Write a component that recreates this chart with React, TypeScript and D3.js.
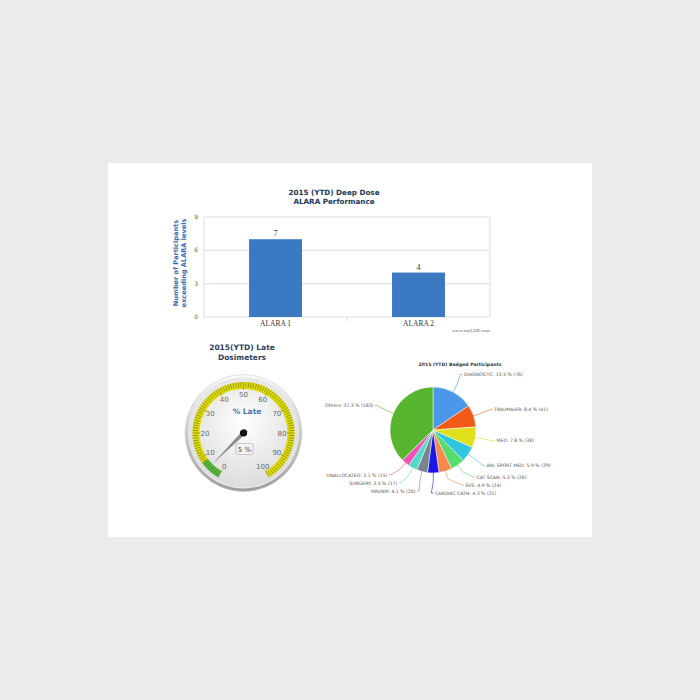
import React from "react";
import * as d3 from "d3";

// ---------- data ----------
const barCategories = ["ALARA 1", "ALARA 2"];
const barValues = [7, 4];
const barTicks = [0, 3, 6, 9];

const gaugeValue = 5;
const gaugeTickLabels = [0, 10, 20, 30, 40, 50, 60, 70, 80, 90, 100];
const gaugeGreenEnd = 8;

const pieNames = [
  "DIAGNOSTIC",
  "TRAUMA/ER",
  "MED",
  "ARL SPORT MED",
  "CAT SCAN",
  "SVS",
  "CARDIAC CATH",
  "MRI/NM",
  "SURGERY",
  "UNALLOCATED",
  "Others",
];
const pieCounts = [76, 41, 38, 29, 26, 24, 21, 20, 17, 15, 183];
const pieColors = [
  "#4b98ea",
  "#f25a17",
  "#dfe01b",
  "#2fc6e0",
  "#55dc6c",
  "#f7894c",
  "#1a16e8",
  "#7a848e",
  "#52d9c9",
  "#f052b5",
  "#58b52f",
];

const W = 700;
const H = 700;

function BarChart() {
  const left = 204, right = 490, top = 217, bottom = 317;
  const y = d3.scaleLinear().domain([0, 9]).range([bottom, top]);
  const x = d3.scaleBand<string>().domain(barCategories).range([left, right]).padding(0);
  const bw = x.bandwidth() * 0.37;
  return (
    <g>
      <text x={334} y={195} textAnchor="middle" fontFamily="DejaVu Sans" fontWeight="bold" fontSize={7.2} fill="#22385a">
        2015 (YTD) Deep Dose
      </text>
      <text x={334} y={204} textAnchor="middle" fontFamily="DejaVu Sans" fontWeight="bold" fontSize={7.2} fill="#22385a">
        ALARA Performance
      </text>
      {barTicks.map((t) => (
        <g key={t}>
          <line x1={left} x2={right} y1={y(t)} y2={y(t)} stroke="#d4d4d4" strokeWidth={0.8} />
          <text x={left - 6} y={y(t) + 2} textAnchor="end" fontFamily="DejaVu Sans" fontSize={6} fill="#666">
            {t}
          </text>
        </g>
      ))}
      <line x1={left} x2={left} y1={top} y2={bottom} stroke="#d4d4d4" strokeWidth={0.8} />
      <line x1={right} x2={right} y1={top} y2={bottom} stroke="#d4d4d4" strokeWidth={0.8} />
      <line x1={(left + right) / 2} x2={(left + right) / 2} y1={bottom} y2={bottom + 4} stroke="#d4d4d4" strokeWidth={0.8} />
      {barCategories.map((c, i) => {
        const cx = (x(c) ?? 0) + x.bandwidth() / 2;
        return (
          <g key={c}>
            <rect x={cx - bw / 2} y={y(barValues[i])} width={bw} height={bottom - y(barValues[i])} fill="#3b79c3" />
            <text x={cx} y={y(barValues[i]) - 3} textAnchor="middle" fontFamily="Liberation Serif" fontSize={8} fill="#333">
              {barValues[i]}
            </text>
            <text x={cx} y={bottom + 9} textAnchor="middle" fontFamily="Liberation Serif" fontSize={7.5} fill="#333">
              {c}
            </text>
          </g>
        );
      })}
      <text x={490} y={332} textAnchor="end" fontFamily="Liberation Serif" fontSize={5} fill="#666">
        www.myLDR.com
      </text>
      <g transform="translate(178,263) rotate(-90)">
        <text x={0} y={0} textAnchor="middle" fontFamily="DejaVu Sans" fontWeight="bold" fontSize={6.6} fill="#3b6fb3">
          Number of Participants
        </text>
        <text x={0} y={8} textAnchor="middle" fontFamily="DejaVu Sans" fontWeight="bold" fontSize={6.6} fill="#3b6fb3">
          exceeding ALARA levels
        </text>
      </g>
    </g>
  );
}

function Gauge() {
  const cx = 243.5, cy = 433;
  const ang = d3.scaleLinear().domain([0, 100]).range([-150, 150]);
  const rad = (v: number) => (ang(v) * Math.PI) / 180;
  const pt = (v: number, r: number): [number, number] => [cx + r * Math.sin(rad(v)), cy - r * Math.cos(rad(v))];
  const bandArc = d3.arc<any>();
  const yellow = bandArc({ innerRadius: 44, outerRadius: 51, startAngle: rad(gaugeGreenEnd), endAngle: rad(100) }) ?? "";
  const green = bandArc({ innerRadius: 44, outerRadius: 51, startAngle: rad(0), endAngle: rad(gaugeGreenEnd) }) ?? "";
  const minor = d3.range(0, 100.01, 1);
  const tip = pt(gaugeValue, 44);
  const a = rad(gaugeValue);
  const px = Math.cos(a), py = Math.sin(a);
  const back = pt(gaugeValue, -4);
  const needle = `M${tip[0]},${tip[1]} L${back[0] + px * 2.2},${back[1] + py * 2.2} L${back[0] - px * 2.2},${back[1] - py * 2.2} Z`;
  return (
    <g>
      <defs>
        <linearGradient id="bezel" x1="0" y1="0" x2="0" y2="1">
          <stop offset="0" stopColor="#fafafa" />
          <stop offset="1" stopColor="#9d9d9d" />
        </linearGradient>
        <radialGradient id="face" cx="0.5" cy="0.4" r="0.6">
          <stop offset="0" stopColor="#ffffff" />
          <stop offset="1" stopColor="#dcdcdc" />
        </radialGradient>
      </defs>
      <text x={242} y={350} textAnchor="middle" fontFamily="DejaVu Sans" fontWeight="bold" fontSize={7.5} fill="#2c3f5c">
        2015(YTD) Late
      </text>
      <text x={242} y={360} textAnchor="middle" fontFamily="DejaVu Sans" fontWeight="bold" fontSize={7.5} fill="#2c3f5c">
        Dosimeters
      </text>
      <circle cx={cx} cy={cy} r={58.5} fill="url(#bezel)" stroke="#c8c8c8" strokeWidth={0.5} />
      <circle cx={cx} cy={cy} r={55.5} fill="#e6e6e6" />
      <circle cx={cx} cy={cy} r={54} fill="url(#face)" />
      <path d={yellow} transform={`translate(${cx},${cy})`} fill="#dedc00" />
      <path d={green} transform={`translate(${cx},${cy})`} fill="#55b83a" />
      {minor.map((v) => {
        const p1 = pt(v, v % 10 === 0 ? 43 : 45.5);
        const p2 = pt(v, 51);
        return <line key={v} x1={p1[0]} y1={p1[1]} x2={p2[0]} y2={p2[1]} stroke="#5a5a2a" strokeWidth={0.5} />;
      })}
      {gaugeTickLabels.map((v) => {
        const p = pt(v, 38.5);
        return (
          <text key={v} x={p[0]} y={p[1] + 2.6} textAnchor="middle" fontFamily="DejaVu Sans" fontSize={7} fill="#6a6a6a">
            {v}
          </text>
        );
      })}
      <text x={247} y={414} textAnchor="middle" fontFamily="DejaVu Sans" fontWeight="bold" fontSize={7.5} fill="#4a74a8">
        % Late
      </text>
      <rect x={236} y={443.5} width={17} height={11} rx={1.5} fill="#f4f4f4" stroke="#aaa" strokeWidth={0.6} />
      <text x={244.5} y={451.5} textAnchor="middle" fontFamily="DejaVu Sans" fontSize={7} fill="#444">
        {gaugeValue} %
      </text>
      <path d={needle} fill="#8c8c8c" />
      <circle cx={cx} cy={cy} r={3.6} fill="#111" />
    </g>
  );
}

function PieChart() {
  const cx = 433, cy = 430, r = 43, d = 20;
  const total = d3.sum(pieCounts);
  const pie = d3.pie<number>().sort(null).value((v) => v);
  const arcs = pie(pieCounts);
  const arc = d3.arc<d3.PieArcDatum<number>>().innerRadius(0).outerRadius(r);
  const R = r + d;
  type L = { i: number; mid: number; y: number; side: number };
  const labels: L[] = arcs.map((a, i) => {
    const mid = (a.startAngle + a.endAngle) / 2;
    const side = mid < Math.PI * 1.02 ? 1 : -1;
    return { i, mid, y: cy - R * Math.cos(mid), side };
  });
  const spacing = 8;
  [1, -1].forEach((s) => {
    const group = labels.filter((l) => l.side === s).sort((a, b) => b.y - a.y);
    let limit = cy + R;
    group.forEach((l) => {
      if (l.y > limit) l.y = limit;
      limit = l.y - spacing;
    });
  });
  return (
    <g>
      <text x={460} y={366} textAnchor="middle" fontFamily="DejaVu Sans" fontWeight="bold" fontSize={4.6} fill="#333">
        2015 (YTD) Badged Participants
      </text>
      {arcs.map((a, i) => (
        <path key={i} d={arc(a) ?? ""} transform={`translate(${cx},${cy})`} fill={pieColors[i]} stroke="#fff" strokeWidth={0.5} />
      ))}
      {labels.map((l) => {
        const dy = l.y - cy;
        const dx = Math.sqrt(Math.max(R * R - dy * dy, 0));
        const lx = cx + l.side * dx;
        const e = [cx + r * Math.sin(l.mid), cy - r * Math.cos(l.mid)];
        const b = [cx + (r + 8) * Math.sin(l.mid), cy - (r + 8) * Math.cos(l.mid)];
        const pct = ((pieCounts[l.i] / total) * 100).toFixed(1);
        const txt = `${pieNames[l.i]}: ${pct} % (${pieCounts[l.i]})`;
        return (
          <g key={l.i}>
            <polyline
              points={`${e[0]},${e[1]} ${b[0]},${b[1]} ${lx - l.side * 2},${l.y} ${lx},${l.y}`}
              fill="none"
              stroke={pieColors[l.i]}
              strokeWidth={0.6}
            />
            <text
              x={lx + l.side * 1.5}
              y={l.y + 1.6}
              textAnchor={l.side > 0 ? "start" : "end"}
              fontFamily="DejaVu Sans"
              fontSize={4.6}
              fill="#555"
            >
              {txt}
            </text>
          </g>
        );
      })}
    </g>
  );
}

export default function App() {
  return (
    <svg width={W} height={H} style={{ position: "absolute", left: 0, top: 0 }}>
      <rect x={0} y={0} width={W} height={H} fill="#ebebeb" />
      <rect x={108} y={163} width={484} height={374} fill="#ffffff" />
      <BarChart />
      <Gauge />
      <PieChart />
    </svg>
  );
}
